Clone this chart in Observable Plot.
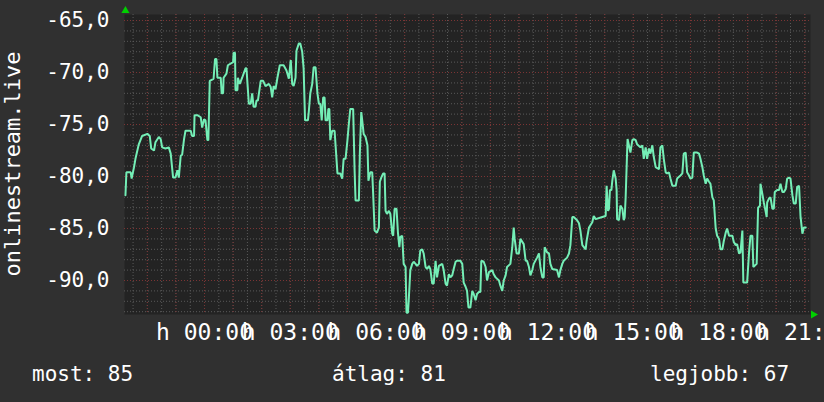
<!DOCTYPE html>
<html>
<head>
<meta charset="utf-8">
<script src="https://cdn.jsdelivr.net/npm/d3@7"></script>
<script src="https://cdn.jsdelivr.net/npm/@observablehq/plot@0.6"></script>
<style>
  html, body { margin: 0; padding: 0; background: #303030; }
  #chart svg { display: block; }
</style>
</head>
<body>
<div id="chart"></div>
<script>
// minutes since 21:12 (Sunday) — 24 hour window
const minutes = [
  2,4,13,15,20,23,30,37,48,53,
  56,62,65,72,76,79,86,93,97,102,
  107,111,114,118,121,125,128,139,142,146,
  147,153,160,163,167,170,174,176,179,187,
  190,193,195,202,204,207,208,214,217,228,
  229,232,233,237,238,242,247,254,256,261,
  265,268,271,275,277,280,286,291,296,303,
  307,310,313,317,321,326,334,340,345,349,
  352,355,359,361,366,369,373,376,379,385,
  387,390,394,397,401,405,408,411,414,417,
  420,422,426,428,430,432,436,441,447,453,
  457,460,464,468,471,474,480,483,485,492,
  494,497,499,502,506,510,512,516,520,522,
  525,530,534,536,539,543,546,548,551,555,
  558,562,564,567,571,574,577,579,583,586,
  590,592,595,597,600,604,607,611,614,618,
  621,625,628,632,635,639,642,646,649,653,
  656,660,667,670,674,677,681,684,688,691,
  695,698,705,709,712,716,719,722,726,730,
  733,737,740,744,747,749,754,758,761,765,
  772,775,779,786,789,793,796,800,803,810,
  814,817,819,823,828,831,838,842,845,849,
  852,856,859,866,870,873,877,880,882,887,
  891,894,898,908,912,915,919,922,929,933,
  936,940,943,950,954,957,961,968,970,975,
  982,985,989,1003,1010,1012,1015,1017,1019,1022,
  1024,1027,1031,1033,1034,1038,1041,1045,1048,1050,
  1052,1055,1056,1062,1066,1069,1073,1076,1083,1087,
  1090,1094,1097,1101,1104,1108,1111,1115,1122,1125,
  1129,1132,1136,1139,1143,1146,1150,1157,1160,1167,
  1171,1174,1178,1181,1185,1188,1192,1195,1202,1206,
  1209,1213,1216,1220,1223,1227,1230,1234,1237,1241,
  1244,1248,1251,1255,1258,1262,1265,1269,1276,1279,
  1283,1286,1290,1293,1297,1299,1307,1311,1314,1318,
  1320,1327,1330,1334,1335,1339,1342,1346,1348,1349,
  1353,1356,1360,1363,1365,1370,1374,1377,1381,1384,
  1388,1391,1395,1398,1402,1405,1409,1412,1416,1419,
  1423,1426,1430
];
const values = [
  -81.8,-79.6,-79.6,-80.2,-79.1,-78.3,-76.9,-76.1,-75.9,-76.1,
  -77.3,-77.5,-76.7,-76.2,-76.4,-77.2,-77.3,-77.2,-77.8,-80.1,
  -80.1,-79.4,-80.1,-78.0,-77.9,-76.4,-75.6,-75.6,-76.1,-76.1,
  -74.1,-74.1,-74.3,-75.3,-74.5,-74.6,-76.5,-76.5,-70.8,-70.6,
  -68.7,-68.7,-70.5,-70.5,-72.0,-72.0,-70.5,-70.1,-69.3,-69.0,
  -68.1,-68.1,-71.7,-71.7,-70.5,-71.1,-70.5,-69.6,-69.6,-73.0,
  -73.0,-72.0,-73.3,-73.3,-72.7,-72.7,-70.8,-70.8,-71.3,-71.1,
  -71.4,-72.4,-71.3,-71.6,-70.5,-69.3,-69.3,-69.8,-70.6,-68.8,
  -71.1,-71.3,-70.5,-67.9,-67.2,-67.2,-68.0,-69.6,-74.6,-74.6,
  -73.7,-72.0,-71.1,-69.5,-69.5,-72.0,-73.0,-73.0,-74.6,-72.4,
  -72.4,-74.6,-74.6,-73.5,-73.5,-76.5,-75.6,-75.6,-79.7,-79.7,
  -80.2,-78.3,-78.3,-76.5,-74.9,-73.5,-73.5,-79.4,-82.3,-82.3,
  -77.8,-73.8,-74.6,-75.9,-76.2,-77.0,-80.4,-79.6,-79.6,-81.7,
  -85.2,-85.4,-84.9,-80.5,-80.1,-79.7,-79.7,-83.3,-83.6,-83.3,
  -83.6,-85.5,-85.7,-83.1,-83.1,-85.4,-86.8,-85.8,-85.7,-88.4,
  -88.7,-93.1,-93.1,-91.6,-89.0,-88.4,-88.2,-88.4,-88.6,-88.4,
  -87.1,-87.0,-87.4,-88.7,-88.9,-88.6,-88.9,-90.3,-90.3,-88.1,
  -89.7,-88.6,-88.4,-89.0,-90.3,-90.5,-89.4,-89.7,-89.5,-88.9,
  -88.2,-88.1,-88.1,-88.4,-90.2,-90.6,-91.0,-92.6,-92.6,-91.0,
  -91.3,-91.9,-91.3,-91.1,-91.1,-88.1,-88.2,-88.7,-90.0,-89.2,
  -89.0,-89.4,-89.7,-90.0,-90.5,-91.0,-90.0,-89.5,-88.7,-88.4,
  -86.8,-84.9,-86.0,-87.4,-87.4,-86.0,-86.5,-88.1,-88.1,-88.7,
  -89.5,-89.0,-88.4,-87.8,-87.4,-88.7,-89.7,-89.7,-86.8,-87.3,
  -87.4,-88.4,-88.9,-89.0,-89.7,-89.0,-88.4,-88.1,-87.8,-87.4,
  -86.6,-83.9,-83.9,-84.2,-84.5,-85.2,-86.6,-87.0,-86.2,-84.9,
  -84.4,-83.8,-84.1,-83.9,-83.8,-80.9,-83.3,-83.1,-81.3,-81.3,
  -80.4,-79.4,-80.2,-81.3,-84.1,-84.2,-82.8,-83.1,-84.2,-83.9,
  -82.0,-77.7,-76.4,-77.7,-76.5,-76.4,-76.5,-76.9,-77.2,-77.0,
  -78.3,-77.2,-78.3,-77.3,-77.8,-77.0,-78.1,-79.1,-79.3,-77.2,
  -77.0,-78.3,-79.6,-79.7,-79.6,-80.2,-80.9,-80.9,-80.2,-79.9,
  -79.7,-77.8,-77.7,-79.6,-79.9,-80.2,-80.1,-77.7,-77.7,-77.8,
  -78.3,-79.1,-79.9,-80.7,-80.2,-80.5,-80.7,-82.0,-82.3,-85.0,
  -85.7,-86.0,-87.0,-87.0,-86.2,-85.4,-85.0,-85.7,-85.7,-86.3,
  -86.6,-86.5,-87.4,-87.3,-85.2,-90.2,-90.2,-87.3,-85.7,-85.7,
  -88.7,-88.4,-83.0,-82.8,-80.7,-81.7,-82.5,-83.4,-83.9,-82.5,
  -82.1,-82.0,-83.1,-83.1,-81.5,-81.3,-81.3,-80.7,-81.5,-81.5,
  -81.2,-80.2,-80.1,-80.2,-81.8,-82.6,-82.6,-81.0,-80.9,-83.8,
  -85.5,-84.9,-84.9
];

const yTicks = [-65, -70, -75, -80, -85, -90];
const yTickLabels = ["-65,0", "-70,0", "-75,0", "-80,0", "-85,0", "-90,0"];
const xLabelTicks = [168, 348, 528, 708, 888, 1068, 1248, 1428];
const xTickLabels = ["h 00:00", "h 03:00", "h 06:00", "h 09:00", "h 12:00", "h 15:00", "h 18:00", "h 21:00"];
const yAxisTitle = "onlinestream.live";
const legendLabels = ["most", "átlag", "legjobb"];
const legendValues = [85, 81, 67];

const data = minutes.map((m, i) => ({m, v: values[i]}));
const yMinor = d3.range(-93, -64, 1);
const xMinor = d3.range(18, 1440, 30);
const xMajor = d3.range(48, 1440, 60);

const FONT = "DejaVu Sans Mono";
const gridGray = "#5a5a5a";
const gridRed = "#7c3434";

const chart = Plot.plot({
  width: 824,
  height: 402,
  marginLeft: 124,
  marginRight: 14,
  marginTop: 14,
  marginBottom: 88,
  style: {background: "#303030", color: "#ffffff", fontFamily: FONT},
  x: {domain: [0, 1440]},
  y: {domain: [-93.27, -64.42]},
  marks: [
    Plot.frame({fill: "#232323", stroke: null}),
    Plot.ruleY(yMinor, {stroke: gridGray, strokeDasharray: "1,2"}),
    Plot.ruleX(xMinor, {stroke: gridGray, strokeDasharray: "1,2"}),
    Plot.ruleY(yTicks, {stroke: gridRed, strokeDasharray: "1,2"}),
    Plot.ruleX(xMajor, {stroke: gridRed, strokeDasharray: "1,2"}),
    Plot.line(data, {x: "m", y: "v", stroke: "#74eeb6", strokeWidth: 2, strokeLinejoin: "miter"}),
    Plot.axisY(yTicks, {
      tickSize: 0, tickPadding: 15, fontSize: 21, fill: "#ffffff",
      tickFormat: d => yTickLabels[yTicks.indexOf(d)], label: null
    }),
    Plot.axisX(xLabelTicks, {
      tickSize: 0, tickPadding: 9, fontSize: 23, fill: "#ffffff",
      tickFormat: d => xTickLabels[xLabelTicks.indexOf(d)], label: null
    }),
    Plot.dot([{m: 2, v: -64.05}], {x: "m", y: "v", symbol: "triangle", r: 3, fill: "#00d000", stroke: null}),
    Plot.dot([{m: 1446, v: -93.27}], {x: "m", y: "v", symbol: "triangle", r: 3, fill: "#00d000", stroke: null, rotate: 90})
  ]
});

const svg = d3.select(chart);
svg.attr("font-family", FONT);
svg.append("text")
  .attr("transform", "translate(20,164) rotate(-90)")
  .attr("text-anchor", "middle")
  .attr("fill", "#ffffff")
  .attr("font-size", 22)
  .attr("font-family", FONT)
  .text(yAxisTitle);

const legendX = [32, 332, 650];
legendLabels.forEach((lab, i) => {
  svg.append("text")
    .attr("x", legendX[i])
    .attr("y", 381)
    .attr("text-anchor", "start")
    .attr("fill", "#ffffff")
    .attr("font-size", 21)
    .attr("font-family", FONT)
    .text(`${lab}: ${legendValues[i]}`);
});

document.getElementById("chart").appendChild(chart);
</script>
</body>
</html>
